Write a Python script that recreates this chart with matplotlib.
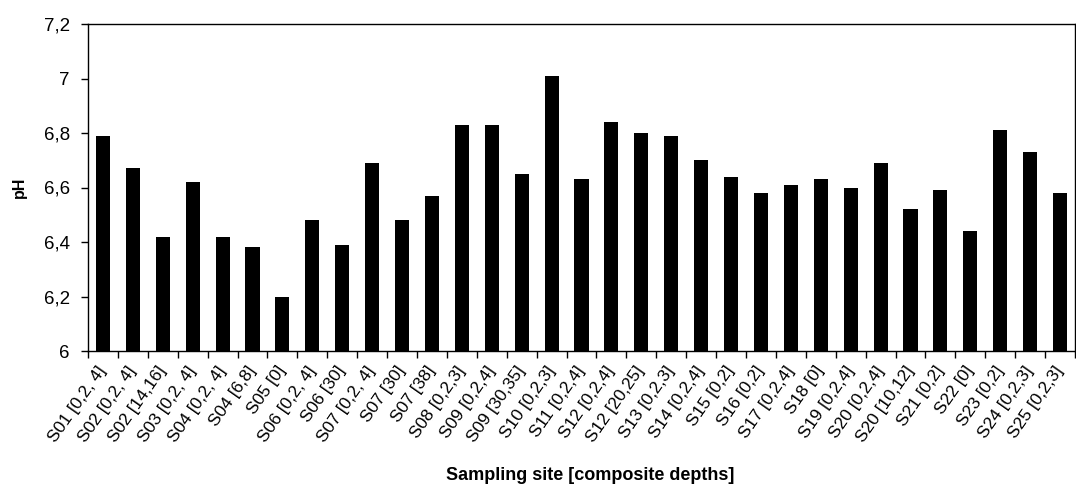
import matplotlib
matplotlib.use("Agg")
import matplotlib.pyplot as plt
import numpy as np

plt.rcParams['font.family'] = ['Liberation Sans', 'DejaVu Sans']

categories = ["S01 [0,2, 4]", "S02 [0,2, 4]", "S02 [14,16]", "S03 [0,2, 4]", "S04 [0,2, 4]",
              "S04 [6,8]", "S05 [0]", "S06 [0,2, 4]", "S06 [30]", "S07 [0,2, 4]", "S07 [30]",
              "S07 [38]", "S08 [0,2,3]", "S09 [0,2,4]", "S09 [30,35]", "S10 [0,2,3]",
              "S11 [0,2,4]", "S12 [0,2,4]", "S12 [20,25]", "S13 [0,2,3]", "S14 [0,2,4]",
              "S15 [0,2]", "S16 [0,2]", "S17 [0,2,4]", "S18 [0]", "S19 [0,2,4]",
              "S20 [0,2,4]", "S20 [10,12]", "S21 [0,2]", "S22 [0]", "S23 [0,2]",
              "S24 [0,2,3]", "S25 [0,2,3]"]
ph_values = [6.79, 6.67, 6.42, 6.62, 6.42, 6.38, 6.20, 6.48, 6.39, 6.69, 6.48,
             6.57, 6.83, 6.83, 6.65, 7.01, 6.63, 6.84, 6.80, 6.79, 6.70,
             6.64, 6.58, 6.61, 6.63, 6.60, 6.69, 6.52, 6.59, 6.44, 6.81,
             6.73, 6.58]
y_ticks = [6.0, 6.2, 6.4, 6.6, 6.8, 7.0, 7.2]
y_tick_labels = ["6", "6,2", "6,4", "6,6", "6,8", "7", "7,2"]

fig = plt.figure(figsize=(10.76, 4.84), dpi=100)
ax = fig.add_axes([88/1076, 1 - 351/484, (1075-88)/1076, (351-24)/484])

x = np.arange(len(categories))
ax.bar(x, ph_values, width=0.47, color='black', bottom=0)
ax.set_ylim(6.0, 7.2)
ax.set_xlim(-0.5, len(categories) - 0.5)

ax.set_yticks(y_ticks)
ax.set_yticklabels(y_tick_labels, fontsize=13.5)
ax.set_xticks(x)
ax.set_xticklabels(categories, rotation=55, ha='right', va='center',
                   rotation_mode='anchor', fontsize=12.5)
ax.tick_params(axis='x', length=0, pad=12)
ax.set_xticks(np.arange(len(categories) + 1) - 0.5, minor=True)
ax.tick_params(axis='x', which='minor', length=5, width=1, direction='out')
ax.tick_params(axis='y', length=5, width=1, direction='out', pad=8)

for s in ['top', 'right', 'left', 'bottom']:
    ax.spines[s].set_linewidth(1)
    ax.spines[s].set_color('black')

ax.set_ylabel("pH", fontsize=11.5, fontweight='bold', labelpad=12)
fig.text(0.5 * (88 + 1075) / 1076 + 0.008, 1 - 475/484, "Sampling site [composite depths]",
         ha='center', va='center', fontsize=13, fontweight='bold')

fig.savefig("out.png", dpi=100)
